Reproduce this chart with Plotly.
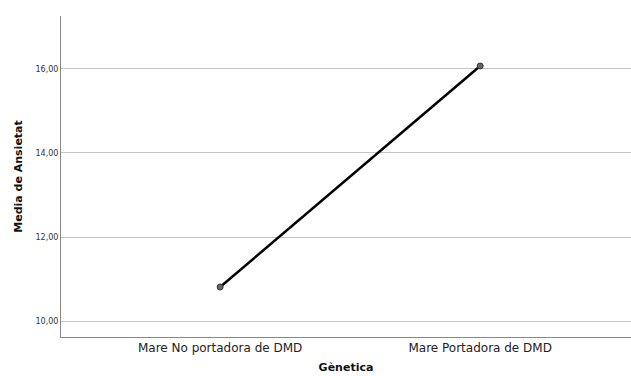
import plotly.graph_objects as go

categories = ["Mare No portadora de DMD", "Mare Portadora de DMD"]
means = [10.81, 16.07]
y_ticks = [10, 12, 14, 16]
y_tick_labels = ["10,00", "12,00", "14,00", "16,00"]

fig = go.Figure()
fig.add_trace(go.Scatter(
    x=[0, 1], y=means, mode="lines+markers",
    line=dict(color="black", width=2.5),
    marker=dict(size=6, color="#666666", line=dict(color="#333333", width=1)),
    showlegend=False, cliponaxis=False,
))

fig.update_layout(
    width=631, height=376,
    margin=dict(l=61, r=0, t=16, b=39, autoexpand=False),
    paper_bgcolor="white", plot_bgcolor="white",
    font=dict(family="DejaVu Sans", color="#222222"),
)
fig.update_xaxes(
    automargin=False,
    range=[-0.612, 1.58], tickvals=[0, 1], ticktext=categories,
    showgrid=False, zeroline=False,
    showline=True, linecolor="#888888", linewidth=1,
    ticks="", tickfont=dict(size=12, color="#222222"),
    title=dict(text="<b>Gènetica</b>", font=dict(size=11, color="#111111"), standoff=8),
)
fig.update_yaxes(
    automargin=False,
    range=[9.62, 17.26], tickvals=y_ticks, ticktext=y_tick_labels,
    showgrid=True, gridcolor="#c4c4c4", gridwidth=1, zeroline=False,
    showline=True, linecolor="#888888", linewidth=1,
    ticks="", tickfont=dict(size=8, color="#333333"),
    title=dict(text="<b>Media de Ansietat</b>", font=dict(size=11, color="#111111"), standoff=10),
)

fig.write_html(
    "out.html",
    config={"displayModeBar": False},
    post_script="document.body.style.margin='0';document.body.style.overflow='hidden';",
)
